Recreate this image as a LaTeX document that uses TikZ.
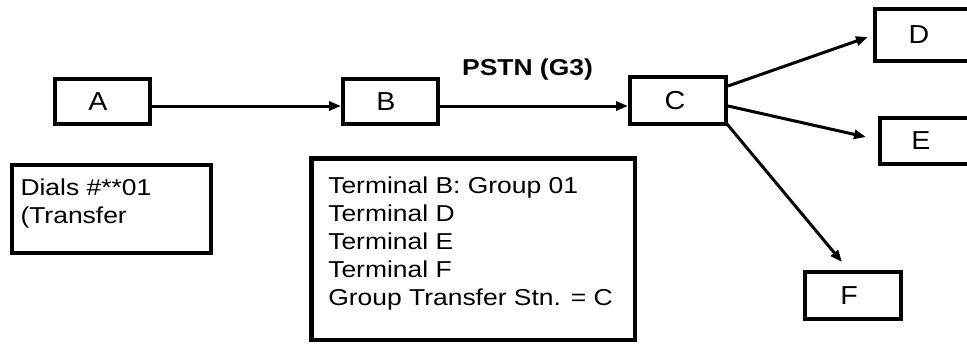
\documentclass[tikz,border=0pt]{standalone}
\usepackage{fontspec}
\setmainfont{Liberation Sans}[FakeStretch=1.15]
\newfontfamily\letterfont{Liberation Sans}[FakeStretch=1.1]
\newfontfamily\labelfont{Liberation Sans}[FakeStretch=1.15]
\usetikzlibrary{arrows.meta}
\begin{document}
\begin{tikzpicture}[x=1pt,y=-1pt,
  box/.style={draw, line width=4pt, inner sep=0pt},
  letterbox/.style={box, font=\letterfont\fontsize{26}{28}\selectfont},
  textbox/.style={box, font=\fontsize{23}{28}\selectfont},
  conn/.style={line width=3pt, -{Triangle[length=12pt,width=9pt]}}]
\useasboundingbox (0,0) rectangle (967,343);
\fill[white] (0,0) rectangle (967,343);

% station boxes
\node[letterbox, minimum width=95pt, minimum height=45pt] (A) at (102.5,101.5) {\hspace*{-9pt}A};
\node[letterbox, minimum width=95pt, minimum height=45pt] (B) at (390.5,101.5) {\hspace*{-9pt}B};
\node[letterbox, minimum width=96pt, minimum height=47pt] (C) at (678,100.5) {\hspace*{-6pt}C};
\node[letterbox, minimum width=100pt, minimum height=52pt] (D) at (925,35) {\hspace*{-12pt}D};
\node[letterbox, minimum width=95pt, minimum height=46pt] (E) at (927.5,141) {\hspace*{-13pt}E};
\node[letterbox, minimum width=96pt, minimum height=47pt] (F) at (853,295.5) {\hspace*{-8pt}F};

% text boxes
\node[textbox, minimum width=199pt, minimum height=88pt, inner xsep=8.5pt, inner ysep=13.5pt] (dials) at (111.5,209)
  {\parbox[c][61pt][t]{182pt}{\raggedright Dials \#**01\\(Transfer}};
\node[textbox, line width=4.5pt, minimum width=323.5pt, minimum height=181.5pt, inner xsep=17pt, inner ysep=18.25pt] (info) at (473,249)
  {\parbox[c][145pt][t]{289.5pt}{\raggedright Terminal B: Group 01\\Terminal D\\Terminal E\\Terminal F\\Group Transfer Stn. = C}};

% label
\node[font=\labelfont\bfseries\fontsize{23}{28}\selectfont, anchor=base, inner sep=0pt] (pstn) at (527.5,75) {PSTN (G3)};

% arrow end points
\coordinate (dtip) at ([xshift=-5pt,yshift=-2pt]D.west);
\coordinate (etip) at ([xshift=-12pt,yshift=4pt]E.west);
\coordinate (ftip) at ([xshift=-11pt,yshift=8pt]F.north);

% connectors
\draw[conn] ([yshift=-4.5pt]A.east) -- ([yshift=-4.5pt]B.west);
\draw[conn] ([yshift=-4.5pt]B.east) -- ([yshift=-5.5pt]C.west);
\draw[conn] ([yshift=14.5pt]C.east) -- (dtip);
\draw[conn] ([yshift=-5.5pt]C.east) -- (etip);
\draw[conn] ([xshift=-1pt,yshift=2pt]C.south east) -- (ftip);
\end{tikzpicture}
\end{document}
